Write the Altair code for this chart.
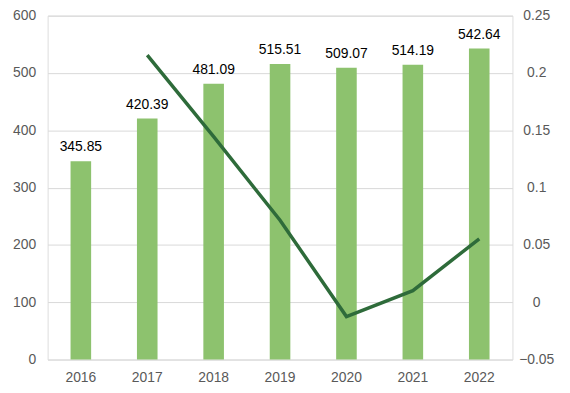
import altair as alt
import pandas as pd

years = ["2016", "2017", "2018", "2019", "2020", "2021", "2022"]
values = [345.85, 420.39, 481.09, 515.51, 509.07, 514.19, 542.64]
growth = [None, 0.2155, 0.1444, 0.0715, -0.0125, 0.0101, 0.0553]

df = pd.DataFrame({"year": years, "value": values, "growth": growth})

FONT = "Liberation Sans"
GREY = "#595959"
FS = 14

x = alt.X("year:N", sort=years, title=None,
          scale=alt.Scale(paddingInner=0.69, paddingOuter=0.345),
          axis=alt.Axis(labelAngle=0, domain=False, ticks=False, labelPadding=11,
                        labelFontSize=FS, labelColor=GREY, labelFont=FONT))

yl = alt.Y("value:Q", title=None,
           scale=alt.Scale(domain=[0, 600], nice=False),
           axis=alt.Axis(values=[0, 100, 200, 300, 400, 500, 600], domain=False, ticks=False,
                         labelPadding=12, labelFontSize=FS, labelColor=GREY, labelFont=FONT,
                         gridColor="#D9D9D9", gridWidth=1))

base = alt.Chart(df)

bars = base.mark_bar(color="#8DC26E").encode(x=x, y=yl)
labels = base.mark_text(baseline="bottom", dy=-7, fontSize=FS, font=FONT, color="#000000").encode(
    x=x, y=yl, text=alt.Text("value:Q", format=".2f"))

line = base.transform_filter("datum.growth != null").mark_line(
    color="#2E6B3A", strokeWidth=3.5, strokeCap="butt", strokeJoin="miter").encode(
    x=x,
    y=alt.Y("growth:Q", title=None,
            scale=alt.Scale(domain=[-0.05, 0.25], nice=False),
            axis=alt.Axis(orient="right", values=[-0.05, 0, 0.05, 0.1, 0.15, 0.2, 0.25],
                          format=".2~f", grid=False, domain=False, ticks=False,
                          labelPadding=24, labelAlign="center",
                          labelFontSize=FS, labelColor=GREY, labelFont=FONT)))

chart = alt.layer(bars + labels, line).resolve_scale(y="independent").properties(
    width=469, height=347,
    autosize=alt.AutoSizeParams(type="none"),
    padding={"left": 40, "top": 6, "right": 50, "bottom": 30},
).configure_view(stroke=None).configure(background="white")

chart.save("out.html", embed_options={"renderer": "svg", "actions": False})
